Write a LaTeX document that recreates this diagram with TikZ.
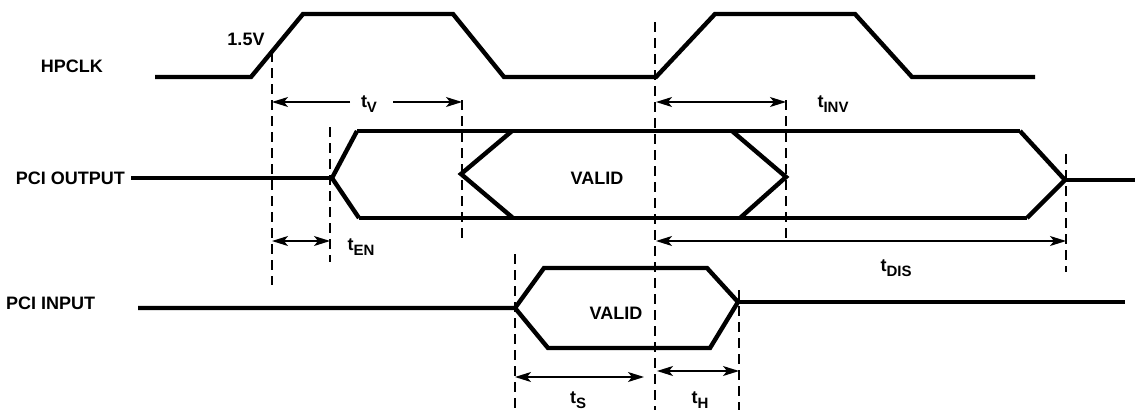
\documentclass[tikz,border=0pt]{standalone}
\usepackage{fontspec}
\setmainfont{Liberation Sans}
\usetikzlibrary{arrows.meta}
\newcommand\tsubl[1]{t\raisebox{-0.5ex}{\fontsize{15}{15}\selectfont #1}}
\begin{document}
\begin{tikzpicture}[x=1pt,y=-1pt,
  wave/.style={line width=4.4pt,line join=miter},
  guide/.style={line width=1.6pt,dash pattern=on 10pt off 6pt},
  dim/.style={line width=1.3pt,{Stealth[length=16pt,width=10pt,inset=4pt]}-{Stealth[length=16pt,width=10pt,inset=4pt]}},
  dimr/.style={line width=1.3pt,-{Stealth[length=16pt,width=10pt,inset=4pt]}},
  lbl/.style={font=\bfseries\fontsize{18}{20}\selectfont,inner sep=0pt},
  sig/.style={lbl,anchor=west}]
\useasboundingbox (0,0) rectangle (1135,410);
% labels
\node[lbl,anchor=east] (lclk) at (103,66) {HPCLK};
\node[lbl,anchor=east] (lout) at (125,178) {PCI OUTPUT};
\node[sig] (lin) at (6,303) {PCI INPUT};
\node[lbl] (v15) at (246,39) {1.5V};
% HPCLK
\draw[wave] (155,77) -- (251,77) -- (303,14) -- (453,14) -- (504,77) -- (656,77) -- (715,14) -- (855,14) -- (912,77) -- (1035,77);
% PCI OUTPUT
\draw[wave] (131,178) -- (332,178);
\draw[wave] (1020,131) -- (1065,180) -- (1027,218);
\draw[wave] (1065,180) -- (1135,180);
\draw[wave] (357,131) -- (332,178) -- (359,218);
\draw[wave] (357,131) -- (1020,131);
\draw[wave] (359,218) -- (1027,218);
\draw[wave] (512,131) -- (461,174) -- (513,218);
\draw[wave] (732,131) -- (786,177) -- (740,218);
\node[lbl] (vout) at (597,178) {VALID};
% PCI INPUT
\draw[wave] (138,308) -- (515,308) -- (544,268) -- (707,268) -- (738,302) -- (710,348) -- (548,348) -- (515,308);
\draw[wave] (738,302) -- (1125,302);
\node[lbl] (vin) at (616,313) {VALID};
% guide lines
\draw[guide] (272,52) -- (272,285);
\draw[guide] (330,127) -- (330,262);
\draw[guide] (462,100) -- (462,242);
\draw[guide] (655,22) -- (655,410);
\draw[guide] (786,100) -- (786,242);
\draw[guide] (1066,154) -- (1066,272);
\draw[guide] (515,254) -- (515,410);
\draw[guide] (739,290) -- (739,410);
% dimensions
\coordinate (tva) at (272,102); \coordinate (tvb) at (350,102);
\coordinate (tvc) at (393,102); \coordinate (tvd) at (462,102);
\draw[dimr] (tvb) -- (tva);
\draw[dimr] (tvc) -- (tvd);
\node[lbl] (tv) at (369,104) {\tsubl{V}};
\coordinate (tia) at (656,102); \coordinate (tib) at (786,102);
\draw[dim] (tia) -- (tib);
\node[lbl] (tinv) at (833,104) {\tsubl{INV}};
\coordinate (tea) at (272,241); \coordinate (teb) at (330,241);
\draw[dim] (tea) -- (teb);
\node[lbl] (ten) at (361,247) {\tsubl{EN}};
\coordinate (tda) at (656,241); \coordinate (tdb) at (1066,241);
\draw[dim] (tda) -- (tdb);
\node[lbl] (tdis) at (896,268) {\tsubl{DIS}};
\coordinate (tsa) at (515,377); \coordinate (tsb) at (644,377);
\draw[dim] (tsa) -- (tsb);
\node[lbl] (ts) at (578,400) {\tsubl{S}};
\coordinate (tha) at (657,371); \coordinate (thb) at (739,371);
\draw[dim] (tha) -- (thb);
\node[lbl] (th) at (700,400) {\tsubl{H}};
\end{tikzpicture}
\end{document}
